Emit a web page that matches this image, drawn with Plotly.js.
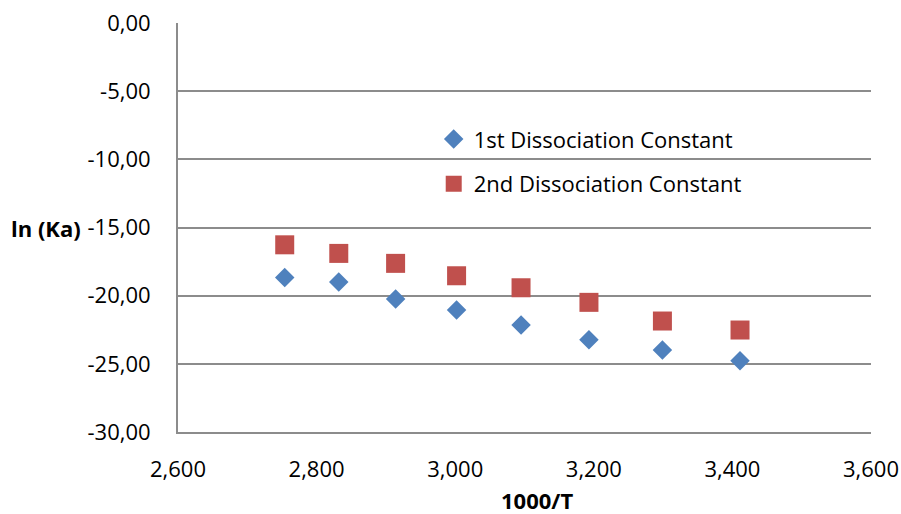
<!DOCTYPE html>
<html>
<head>
<meta charset="utf-8">
<script src="https://cdn.plot.ly/plotly-3.0.1.min.js"></script>
<style>
  html, body { margin: 0; padding: 0; background: #ffffff; }
  #chart { width: 901px; height: 514px; }
</style>
</head>
<body>
<div id="chart"></div>
<script>
// 1000/T for T = 363.15 ... 293.15 K
const invTemp = [2.754, 2.832, 2.914, 3.002, 3.095, 3.193, 3.299, 3.411];
// ln(Ka) of the two dissociation steps
const lnKa1 = [-18.66, -19.00, -20.25, -21.06, -22.16, -23.24, -23.99, -24.78];
const lnKa2 = [-16.27, -16.90, -17.63, -18.54, -19.42, -20.49, -21.86, -22.52];

const seriesNames = ['1st Dissociation Constant', '2nd Dissociation Constant'];

const xTickVals = [2.6, 2.8, 3.0, 3.2, 3.4, 3.6];
const xTickText = ['2,600', '2,800', '3,000', '3,200', '3,400', '3,600'];
const yTickVals = [0, -5, -10, -15, -20, -25, -30];
const yTickText = ['0,00', '-5,00', '-10,00', '-15,00', '-20,00', '-25,00', '-30,00'];

const FONT = 'Open Sans, Liberation Sans, sans-serif';
const FS = 22;
const GRID = '#8c8c8c';

const traces = [
  {
    x: invTemp, y: lnKa1, name: seriesNames[0], type: 'scatter', mode: 'markers',
    legendgroup: 'a',
    marker: { symbol: 'diamond', size: 15, color: '#4f81bd' }
  },
  {
    x: invTemp, y: lnKa2, name: seriesNames[1], type: 'scatter', mode: 'markers',
    legendgroup: 'b',
    marker: { symbol: 'square', size: 19, color: '#c0504d' }
  }
];

const layout = {
  width: 901, height: 514,
  margin: { l: 178, r: 30, t: 23, b: 82 },
  paper_bgcolor: '#ffffff', plot_bgcolor: '#ffffff',
  font: { family: FONT, size: FS, color: '#000000' },
  showlegend: true,
  legend: {
    x: 0.369, y: 0.767, xanchor: 'left', yanchor: 'top',
    bgcolor: 'rgba(0,0,0,0)', borderwidth: 0,
    traceorder: 'grouped', tracegroupgap: 13,
    font: { family: FONT, size: FS, color: '#000000' }
  },
  xaxis: {
    range: [2.6, 3.6],
    tickvals: xTickVals, ticktext: xTickText,
    ticks: 'outside', ticklen: 17, tickcolor: 'rgba(0,0,0,0)',
    showgrid: false, zeroline: false,
    showline: true, linecolor: GRID, linewidth: 2,
    tickfont: { family: FONT, size: FS, color: '#000000' }
  },
  yaxis: {
    range: [-30, 0],
    tickvals: yTickVals, ticktext: yTickText,
    ticks: 'outside', ticklen: 21, tickcolor: 'rgba(0,0,0,0)',
    showgrid: true, gridcolor: GRID, gridwidth: 2,
    zeroline: false,
    showline: true, linecolor: GRID, linewidth: 2,
    tickfont: { family: FONT, size: FS, color: '#000000' }
  },
  annotations: [
    {
      text: '<b>ln (Ka)</b>', xref: 'paper', yref: 'y',
      x: -0.19, y: -15, xanchor: 'center', yanchor: 'middle',
      showarrow: false, font: { family: FONT, size: FS, color: '#000000' }
    },
    {
      text: '<b>1000/T</b>', xref: 'paper', yref: 'paper',
      x: 0.518, y: -0.166, xanchor: 'center', yanchor: 'middle',
      showarrow: false, font: { family: FONT, size: FS, color: '#000000' }
    }
  ]
};

Plotly.newPlot('chart', traces, layout, { displayModeBar: false, staticPlot: true });
</script>
</body>
</html>
